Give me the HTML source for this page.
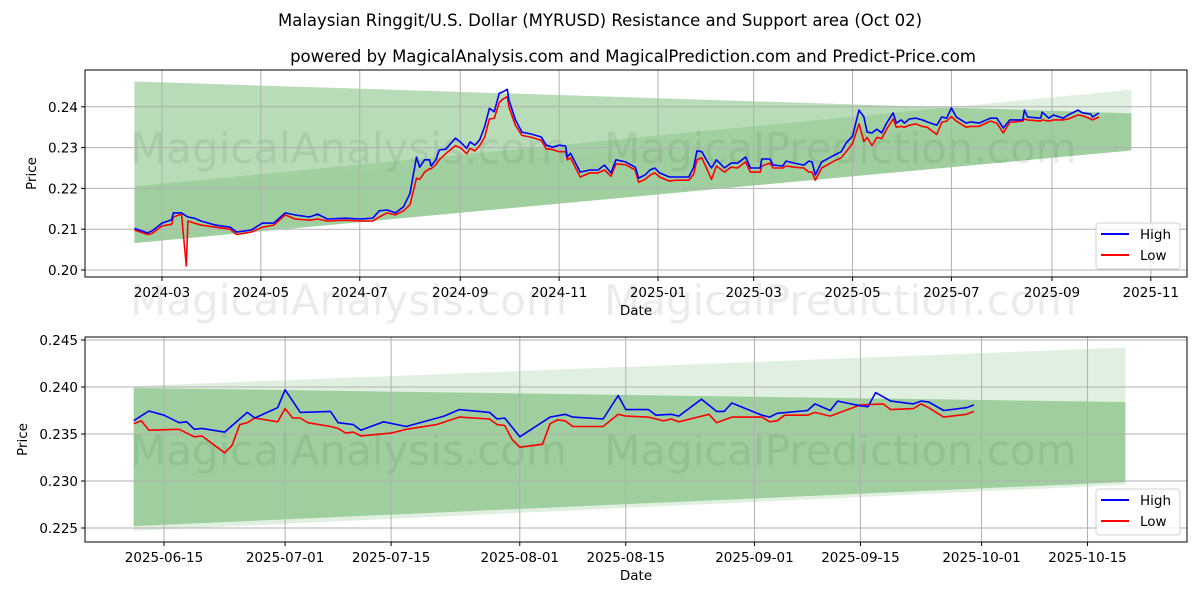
<!DOCTYPE html>
<html><head><meta charset="utf-8"><style>
html,body{margin:0;padding:0;background:#fff;}
svg{display:block;font-family:"DejaVu Sans","Liberation Sans",sans-serif;}
</style></head><body>
<svg id="chart" width="1200" height="600" viewBox="0 0 1200 600" xmlns="http://www.w3.org/2000/svg">
<rect width="1200" height="600" fill="#fff"/>
<text x="600" y="26" font-size="16.5" text-anchor="middle" fill="#000">Malaysian Ringgit/U.S. Dollar (MYRUSD) Resistance and Support area (Oct 02)</text>
<text x="633" y="62" font-size="16.5" text-anchor="middle" fill="#000">powered by MagicalAnalysis.com and MagicalPrediction.com and Predict-Price.com</text>
<g id="top"></g>
<g id="bot"></g>
</svg>
<script>
// ---- top chart data ----
const topDates = ["2024-02-13","2024-02-21","2024-02-24","2024-03-01","2024-03-07","2024-03-08","2024-03-13","2024-03-16","2024-03-17","2024-03-21","2024-03-25","2024-04-03","2024-04-12","2024-04-16","2024-04-25","2024-05-02","2024-05-09","2024-05-16","2024-05-22","2024-05-31","2024-06-05","2024-06-11","2024-06-22","2024-07-01","2024-07-09","2024-07-13","2024-07-18","2024-07-23","2024-07-28","2024-08-01","2024-08-05","2024-08-07","2024-08-10","2024-08-13","2024-08-14","2024-08-17","2024-08-19","2024-08-23","2024-08-29","2024-09-01","2024-09-05","2024-09-07","2024-09-10","2024-09-13","2024-09-16","2024-09-19","2024-09-22","2024-09-25","2024-09-27","2024-09-30","2024-10-01","2024-10-05","2024-10-09","2024-10-15","2024-10-21","2024-10-24","2024-10-28","2024-11-01","2024-11-05","2024-11-06","2024-11-08","2024-11-14","2024-11-20","2024-11-25","2024-11-29","2024-12-03","2024-12-06","2024-12-12","2024-12-18","2024-12-20","2024-12-24","2024-12-27","2024-12-30","2025-01-02","2025-01-08","2025-01-12","2025-01-20","2025-01-23","2025-01-25","2025-01-28","2025-02-01","2025-02-03","2025-02-06","2025-02-11","2025-02-15","2025-02-19","2025-02-24","2025-02-27","2025-03-05","2025-03-06","2025-03-11","2025-03-13","2025-03-19","2025-03-21","2025-03-26","2025-04-01","2025-04-04","2025-04-06","2025-04-08","2025-04-12","2025-04-20","2025-04-24","2025-04-27","2025-05-01","2025-05-05","2025-05-08","2025-05-10","2025-05-13","2025-05-16","2025-05-19","2025-05-22","2025-05-26","2025-05-28","2025-05-31","2025-06-02","2025-06-05","2025-06-09","2025-06-13","2025-06-16","2025-06-22","2025-06-25","2025-06-28","2025-07-01","2025-07-04","2025-07-10","2025-07-13","2025-07-18","2025-07-25","2025-07-29","2025-08-02","2025-08-06","2025-08-14","2025-08-15","2025-08-17","2025-08-25","2025-08-26","2025-08-30","2025-09-02","2025-09-08","2025-09-11","2025-09-17","2025-09-20","2025-09-25","2025-09-26","2025-09-30"];
const topHigh = [.2102,.2091,.2096,.2115,.2123,.2140,.2140,.2132,.2130,.2127,.2120,.2110,.2105,.2093,.2098,.2115,.2115,.2140,.2135,.2130,.2137,.2125,.2127,.2125,.2127,.2145,.2147,.2140,.2155,.2188,.2277,.2252,.2270,.2270,.2255,.2270,.2294,.2296,.2323,.2314,.2298,.2314,.2306,.2319,.2351,.2396,.2388,.2433,.2436,.2443,.2417,.2368,.2338,.2333,.2326,.2306,.2301,.2306,.2304,.2277,.2286,.2240,.2245,.2245,.2257,.2238,.2270,.2265,.2252,.2225,.2233,.2245,.2250,.2238,.2228,.2228,.2228,.2252,.2292,.2290,.2262,.2250,.2270,.2250,.2262,.2262,.2277,.2250,.2250,.2272,.2272,.2257,.2255,.2267,.2262,.2257,.2267,.2265,.2233,.2265,.2282,.2290,.2311,.2328,.2392,.2375,.2338,.2336,.2345,.2336,.2360,.2385,.2360,.2368,.2360,.2370,.2372,.2368,.2363,.2355,.2375,.2372,.2397,.2375,.2360,.2363,.2360,.2372,.2372,.2348,.2368,.2368,.2392,.2375,.2372,.2387,.2372,.2380,.2372,.2380,.2392,.2385,.2382,.2375,.2385];
const topLow = [.2098,.2087,.2090,.2108,.2112,.2130,.2137,.2010,.2120,.2115,.2110,.2105,.2100,.2087,.2093,.2105,.2110,.2135,.2125,.2122,.2125,.2120,.2122,.2120,.2120,.2130,.2140,.2135,.2145,.2160,.2225,.2222,.2240,.2248,.2248,.2258,.2270,.2285,.2305,.2300,.2285,.2298,.2292,.2305,.2325,.2370,.2372,.2410,.2418,.2425,.2400,.2355,.2330,.2325,.2318,.2297,.2295,.2290,.2290,.2270,.2275,.2228,.2238,.2238,.2245,.2230,.2260,.2258,.2245,.2215,.2222,.2232,.2238,.2228,.2218,.2220,.2220,.2235,.2270,.2275,.2240,.2222,.2255,.2240,.2252,.2250,.2265,.2240,.2240,.2255,.2262,.2250,.2250,.2255,.2252,.2250,.2240,.2240,.2220,.2250,.2268,.2275,.2290,.2310,.2358,.2315,.2325,.2305,.2325,.2322,.2345,.2370,.2350,.2352,.2350,.2355,.2358,.2352,.2350,.2332,.2362,.2365,.2376,.2365,.2350,.2352,.2352,.2365,.2360,.2336,.2362,.2365,.2370,.2368,.2365,.2368,.2365,.2368,.2368,.2370,.2380,.2378,.2370,.2368,.2375];
const topYTicks = [0.20,0.21,0.22,0.23,0.24];
const topXTicks = ["2024-03","2024-05","2024-07","2024-09","2024-11","2025-01","2025-03","2025-05","2025-07","2025-09","2025-11"];
const topBandDates = ["2024-02-13","2025-10-20"];
const topResTop = [0.2462,0.2384];
const topSupTop = [0.2205,0.2384];
const topSupOuterTop = [0.2205,0.2442];
const topSupBot = [0.2066,0.2293];
const topSupOuterBot = [0.2066,0.2293];

// ---- bottom chart data ----
const botHighDates = ["2025-06-11","2025-06-13","2025-06-15","2025-06-17","2025-06-18","2025-06-19","2025-06-20","2025-06-23","2025-06-26","2025-06-27","2025-06-30","2025-07-01","2025-07-03","2025-07-07","2025-07-08","2025-07-10","2025-07-11","2025-07-14","2025-07-17","2025-07-22","2025-07-24","2025-07-28","2025-07-29","2025-07-30","2025-08-01","2025-08-05","2025-08-07","2025-08-08","2025-08-12","2025-08-14","2025-08-15","2025-08-18","2025-08-19","2025-08-21","2025-08-22","2025-08-25","2025-08-27","2025-08-28","2025-08-29","2025-09-02","2025-09-03","2025-09-04","2025-09-08","2025-09-09","2025-09-11","2025-09-12","2025-09-15","2025-09-16","2025-09-17","2025-09-19","2025-09-22","2025-09-23","2025-09-24","2025-09-26","2025-09-29","2025-09-30"];
const botHigh = [.23641,.23745,.2370,.2362,.2363,.2355,.2356,.2352,.2373,.2367,.2378,.2397,.2373,.2374,.2362,.2360,.2354,.2363,.2358,.2369,.2376,.2373,.2366,.2367,.2347,.2368,.2371,.2368,.2366,.2391,.2376,.2376,.2370,.2371,.2369,.2387,.2374,.2374,.2383,.2370,.2368,.2372,.2375,.2382,.2375,.2385,.2380,.2379,.2394,.2385,.2382,.2385,.2384,.2375,.2378,.2381];
const botLowDates = ["2025-06-11","2025-06-12","2025-06-13","2025-06-17","2025-06-19","2025-06-20","2025-06-23","2025-06-24","2025-06-25","2025-06-26","2025-06-27","2025-06-30","2025-07-01","2025-07-02","2025-07-03","2025-07-04","2025-07-07","2025-07-08","2025-07-09","2025-07-10","2025-07-11","2025-07-15","2025-07-17","2025-07-21","2025-07-24","2025-07-28","2025-07-29","2025-07-30","2025-07-31","2025-08-01","2025-08-04","2025-08-05","2025-08-06","2025-08-07","2025-08-08","2025-08-12","2025-08-14","2025-08-15","2025-08-18","2025-08-20","2025-08-21","2025-08-22","2025-08-26","2025-08-27","2025-08-29","2025-09-02","2025-09-03","2025-09-04","2025-09-05","2025-09-08","2025-09-09","2025-09-11","2025-09-15","2025-09-18","2025-09-19","2025-09-22","2025-09-23","2025-09-24","2025-09-26","2025-09-29","2025-09-30"];
const botLow = [.2361,.2364,.2354,.2355,.2347,.2348,.2330,.2338,.2360,.2362,.2367,.2363,.2377,.2367,.2367,.2362,.2358,.2356,.2351,.2352,.2348,.2351,.2355,.2360,.2368,.2366,.2360,.2359,.2344,.2336,.2339,.2361,.2365,.2364,.2358,.2358,.2371,.2369,.2368,.2364,.2366,.2363,.2371,.2362,.2368,.2368,.2363,.2364,.2370,.2370,.2373,.2369,.2381,.2382,.2376,.2377,.2382,.2378,.2368,.2371,.2374];
const botYTicks = [0.225,0.230,0.235,0.240,0.245];
const botXTicks = ["2025-06-15","2025-07-01","2025-07-15","2025-08-01","2025-08-15","2025-09-01","2025-09-15","2025-10-01","2025-10-15"];
const botBandDates = ["2025-06-11","2025-10-20"];
const botOuterTop = [0.2401,0.2442];
const botOuterBot = [0.2247,0.2296];
const botInnerTop = [0.2399,0.2384];
const botInnerBot = [0.2252,0.2299];

const NS = "http://www.w3.org/2000/svg";
function mk(parent, tag, attrs, text){
  const e = document.createElementNS(NS, tag);
  for (const k in attrs) e.setAttribute(k, attrs[k]);
  if (text !== undefined) e.textContent = text;
  parent.appendChild(e);
  return e;
}
const day = s => { const p = s.split("-").map(Number); return Date.UTC(p[0], p[1]-1, p[2]||1)/86400000; };

function panel(g, cfg){
  const {L,R,T,B} = cfg;
  const xs = d => cfg.x0 + (day(d) - day(cfg.d0)) * cfg.pxPerDay;
  const ys = v => cfg.yBase - (v - cfg.vBase) * cfg.pxPerUnit;
  // watermarks
  cfg.marks.forEach(m => {
    const t = mk(g, "text", {x:m[0], y:m[1], "font-size":42, fill:"#808080", "fill-opacity":"0.16"}, m[2]);
    
    
  });
  // bands
  cfg.bands.forEach(b => {
    const pts = [[xs(cfg.bandDates[0]), ys(b.top[0])],[xs(cfg.bandDates[1]), ys(b.top[1])],[xs(cfg.bandDates[1]), ys(b.bot[1])],[xs(cfg.bandDates[0]), ys(b.bot[0])]];
    const p = mk(g, "polygon", {points: pts.map(q=>q.join(",")).join(" "), fill:"#008000", "fill-opacity": b.a});
    
    
  });
  // grid + ticks
  cfg.yTicks.forEach(v => {
    const y = ys(v);
    const gl = mk(g, "line", {x1:L, x2:R, y1:y, y2:y, stroke:"#b0b0b0", "stroke-width":1});
    
    
    mk(g, "line", {x1:L-4, x2:L, y1:y, y2:y, stroke:"#000"});
    const t = mk(g, "text", {x:L-7, y:y+5, "font-size":13.5, "text-anchor":"end"}, v.toFixed(cfg.yDec));
    
    
  });
  cfg.xTicks.forEach(d => {
    const x = xs(d.length === 7 ? d + "-01" : d);
    const gl = mk(g, "line", {x1:x, x2:x, y1:T, y2:B, stroke:"#b0b0b0", "stroke-width":1});
    
    
    mk(g, "line", {x1:x, x2:x, y1:B, y2:B+4, stroke:"#000"});
    const t = mk(g, "text", {x:x, y:B+20, "font-size":13.5, "text-anchor":"middle"}, d);
    
    
  });
  // series
  const series = [[cfg.highDates, cfg.high, "#0000ff", "high-line"], [cfg.lowDates, cfg.low, "#ff0000", "low-line"]];
  series.slice().reverse().forEach(s => {
    const d = s[0].map((dt,i) => (i?"L":"M") + xs(dt).toFixed(1) + "," + ys(s[1][i]).toFixed(1)).join(" ");
    const p = mk(g, "path", {d:d, fill:"none", stroke:s[2], "stroke-width":1.6, "stroke-linejoin":"round"});
    
    
  });
  // frame
  const fr = mk(g, "rect", {x:L, y:T, width:R-L, height:B-T, fill:"none", stroke:"#000", "stroke-width":1});
  
  
  // axis titles
  const xt = mk(g, "text", {x:(L+R)/2, y:B+38, "font-size":13.5, "text-anchor":"middle"}, "Date");
  
  
  const yt = mk(g, "text", {x:0, y:0, "font-size":13.5, "text-anchor":"middle", transform:`translate(${cfg.yTitleX},${(T+B)/2}) rotate(-90)`}, "Price");
  
  
  // legend
  const lg = mk(g, "g", {});
  
  
  const ly = cfg.legendY;
  mk(lg, "rect", {x:1096, y:ly, width:84, height:46, rx:3, fill:"#fff", "fill-opacity":"0.8", stroke:"#d0d0d0"});
  const e1 = mk(lg, "g", {});
  
  
  mk(e1, "line", {x1:1101, x2:1129, y1:ly+11, y2:ly+11, stroke:"#0000ff", "stroke-width":2});
  mk(e1, "text", {x:1140, y:ly+16, "font-size":13.5}, "High");
  const e2 = mk(lg, "g", {});
  
  
  mk(e2, "line", {x1:1101, x2:1129, y1:ly+32, y2:ly+32, stroke:"#ff0000", "stroke-width":2});
  mk(e2, "text", {x:1140, y:ly+37, "font-size":13.5}, "Low");
}

panel(document.getElementById("top"), {
  L:85, R:1187, T:70, B:277,
  x0:162, d0:"2024-03-01", pxPerDay:1.621,
  yBase:270, vBase:0.20, pxPerUnit:4080, yDec:2, yTitleX:36,
  yTicks: topYTicks, xTicks: topXTicks,
  highDates: topDates, high: topHigh, lowDates: topDates, low: topLow,
  bandDates: topBandDates,
  bands: [
    {name:"resistance-band", top: topResTop, bot: topSupTop, a:0.28},
    {name:"support-band-outer", top: topSupOuterTop, bot: topSupOuterBot, a:0.12},
    {name:"support-band-inner", top: topSupTop, bot: topSupBot, a:0.29}
  ],
  marks: [[130,163,"MagicalAnalysis.com"],[604,163,"MagicalPrediction.com"],[130,315,"MagicalAnalysis.com"],[604,315,"MagicalPrediction.com"]],
  legendY:223
});

panel(document.getElementById("bot"), {
  L:85, R:1187, T:337, B:542,
  x0:164, d0:"2025-06-15", pxPerDay:7.57,
  yBase:528, vBase:0.225, pxPerUnit:9400, yDec:3, yTitleX:27,
  yTicks: botYTicks, xTicks: botXTicks,
  highDates: botHighDates, high: botHigh, lowDates: botLowDates, low: botLow,
  bandDates: botBandDates,
  bands: [
    {name:"support-band-outer", top: botOuterTop, bot: botOuterBot, a:0.12},
    {name:"resistance-support-band", top: botInnerTop, bot: botInnerBot, a:0.29}
  ],
  marks: [[130,465,"MagicalAnalysis.com"],[604,465,"MagicalPrediction.com"]],
  legendY:489
});
</script>
</body></html>
